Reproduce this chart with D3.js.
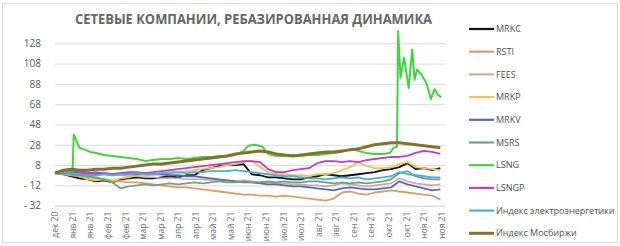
<!DOCTYPE html>
<html>
<head>
<meta charset="utf-8">
<script src="https://cdn.jsdelivr.net/npm/d3@7"></script>
<style>
  body { margin: 0; background: #fff; }
  svg { display: block; font-family: "Open Sans", "Noto Sans", sans-serif; }
</style>
</head>
<body>
<svg id="chart" width="620" height="246"></svg>
<script>
// weekly points from 28.12.2020
var startDate = new Date(2020, 11, 28);
var weeks = d3.range(48);

var seriesNames = ["MRKC", "RSTI", "FEES", "MRKP", "MRKV", "MSRS", "LSNG", "LSNGP",
                   "Индекс электроэнергетики", "Индекс Мосбиржи"];
var seriesColors = ["#111111", "#e39a66", "#d2a6ae", "#f2c44a", "#4f6fb2", "#72a27c",
                    "#3ed63e", "#c53ccc", "#3eb4e0", "#85712a"];
var seriesWidths = [1.8, 1.8, 1.6, 1.8, 1.8, 1.8, 2, 1.8, 1.8, 3];

var mrkc  = [0,-1,-3,-5,-6,-8,-7,-9,-6,-5,-4,-5,-5,-4,-3,-4,-2,-2,3,5,7,8,8,9,-1,-2,-4,-4,-5,-6,-6,-4,-3,-1,-2,-3,-2,-1,0,1,3,4,6,10,4,5,3,5];
var rsti  = [0,-1,-2,-3,-4,-5,-6,-7,-8,-9,-9,-10,-11,-12,-13,-14,-14,-15,-16,-17,-18,-19,-20,-21,-21,-22,-22,-23,-22,-23,-24,-25,-26,-27,-25,-19,-18,-20,-21,-19,-18,-17,-18,-19,-20,-21,-22,-26];
var fees  = [0,2,3,2,1,0,-1,-2,-2,-3,-3,-4,-4,-5,-5,-5,-6,-6,-6,-7,-7,-7,-8,-7,-8,-9,-9,-10,-10,-11,-11,-12,-12,-13,-12,-10,-11,-12,-13,-12,-11,-10,-5,-8,-10,-11,-12,-11];
var mrkp  = [0,2,1,-3,-6,-7,-6,-8,-5,-4,-2,-3,-1,0,2,1,2,3,4,5,6,8,9,11,12,6,1,0,-1,-2,-2,-3,-1,-1,0,3,6,11,7,5,5,6,9,11,6,5,4,3];
var mrkv  = [0,0,1,0,-1,-1,0,-1,0,-1,-1,0,-1,-1,-2,-2,-3,-3,-4,-5,-6,-7,-8,-9,-9,-10,-11,-11,-12,-13,-13,-14,-15,-16,-17,-15,-14,-15,-16,-16,-15,-14,-8,-11,-13,-15,-17,-16];
var msrs  = [0,1,-1,-2,-3,-4,-6,-9,-15,-13,-12,-11,-12,-11,-10,-11,-10,-9,-10,-9,-8,-9,-9,-8,-9,-9,-8,-9,-8,-9,-9,-8,-8,-9,-10,-9,-10,-9,-10,-9,-8,-6,0,2,-3,-5,-6,-6];
var lsngp = [0,2,3,1,0,1,0,-1,0,1,1,0,1,2,3,4,5,6,7,8,9,10,11,12,12,11,4,1,1,3,4,5,10,12,12,11,12,11,13,14,15,16,16,17,20,22,21,19];
var elIdx = [0,1,0,-1,-2,-2,-1,-2,-1,-1,0,-1,-1,0,0,1,0,1,1,2,2,2,3,2,1,0,-1,-2,-3,-3,-4,-5,-5,-6,-5,-4,-5,-4,-6,-5,-4,-3,1,-1,-2,-3,-4,-4];
var moex  = [0,3,4,3,3,4,4,5,5,6,7,8,9,9,10,11,12,13,14,15,16,17,19,20,21,22,21,19,18,17,18,19,20,21,21,22,23,24,26,28,29,30,30,29,28,27,26,25];

// LSNG has its own days (offset from startDate)
var lsngDays   = [0,7,14,15,16,19,21,26,30,35,42,49,56,63,70,77,84,91,98,105,112,119,126,133,140,147,154,161,165,171,177,182,189,196,203,210,217,224,231,238,245,252,259,266,273,280,286,289,292,293,295,298,302,305,307,309,313,317,321,324,327,330];
var lsngValues = [0,2,3,2,38,30,25,23,21,20,18,17,16,15,14,12,13,14,14,15,14,15,16,16,17,17,18,22,27,28,26,19,17,17,18,17,18,18,19,20,21,24,22,20,19,19,20,25,26,140,94,114,84,122,92,102,97,89,73,83,77,75];

var yTicks = [-32, -12, 8, 28, 48, 68, 88, 108, 128];

var weekValues = [mrkc, rsti, fees, mrkp, mrkv, msrs, null, lsngp, elIdx, moex];

var svg = d3.select("#chart");

var ru = d3.timeFormatLocale({
  dateTime: "%A, %e %B %Y г. %X", date: "%d.%m.%Y", time: "%H:%M:%S",
  periods: ["AM", "PM"],
  days: ["воскресенье","понедельник","вторник","среда","четверг","пятница","суббота"],
  shortDays: ["вс","пн","вт","ср","чт","пт","сб"],
  months: ["январь","февраль","март","апрель","май","июнь","июль","август","сентябрь","октябрь","ноябрь","декабрь"],
  shortMonths: ["янв","фев","мар","апр","май","июн","июл","авг","сен","окт","ноя","дек"]
});
var fmt = ru.format("%b %y");

var x = d3.scaleTime()
  .domain([startDate, d3.timeDay.offset(startDate, 333)])
  .range([55, 445]);
var y = d3.scaleLinear().domain([-32, 128]).range([205.7, 43.3]);

// frame
svg.append("rect").attr("x", 2.5).attr("y", 3.5).attr("width", 615).attr("height", 239)
  .attr("fill", "#fff").attr("stroke", "#d9d9d9");

// title
svg.append("text").attr("x", 75).attr("y", 24)
  .attr("textLength", 357).attr("lengthAdjust", "spacingAndGlyphs")
  .style("font-size", "15px").style("font-weight", "bold").style("fill", "#666666")
  .text("СЕТЕВЫЕ КОМПАНИИ, РЕБАЗИРОВАННАЯ ДИНАМИКА");

// grid + y labels
var yAxis = d3.axisLeft(y).tickValues(yTicks).tickSize(-(445 - 55))
  .tickFormat(function (d) { return d < 0 ? "- " + Math.abs(d) : d; });
var gy = svg.append("g").attr("transform", "translate(55,0)").call(yAxis);
gy.select(".domain").remove();
gy.selectAll("line").attr("stroke", "#d9d9d9");
gy.selectAll("text").attr("x", -14).style("font-size", "10px").style("fill", "#595959")
  .style("font-family", "Open Sans, sans-serif");

// x labels
var xTicks = d3.range(23).map(function (i) { return d3.timeDay.offset(startDate, 15 * i); });
var xAxis = d3.axisBottom(x).tickValues(xTicks).tickSize(0).tickFormat(fmt);
var gx = svg.append("g").attr("transform", "translate(0,205.7)").call(xAxis);
gx.select(".domain").attr("stroke", "#d9d9d9");
gx.selectAll("text")
  .attr("transform", "rotate(-90)")
  .attr("x", -6).attr("y", 0).attr("dy", "0.32em")
  .style("text-anchor", "end").style("font-size", "8.5px").style("fill", "#6f6f6f")
  .style("font-family", "Open Sans, sans-serif");

var line = d3.line()
  .x(function (d) { return x(d[0]); })
  .y(function (d) { return y(d[1]); });

seriesNames.forEach(function (name, i) {
  var pts;
  if (weekValues[i]) {
    pts = weeks.map(function (k) { return [d3.timeDay.offset(startDate, 7 * k), weekValues[i][k]]; });
  } else {
    pts = lsngDays.map(function (dd, j) { return [d3.timeDay.offset(startDate, dd), lsngValues[j]]; });
  }
  svg.append("path")
    .attr("d", line(pts))
    .attr("fill", "none")
    .attr("stroke", seriesColors[i])
    .attr("stroke-width", seriesWidths[i])
    .attr("stroke-linejoin", "round");
});

// legend
var legend = svg.append("g");
seriesNames.forEach(function (name, i) {
  var ly = 29 + i * 22.7;
  legend.append("line").attr("x1", 469).attr("x2", 494).attr("y1", ly).attr("y2", ly)
    .attr("stroke", seriesColors[i]).attr("stroke-width", i == 9 ? 3 : 2.2);
  legend.append("text").attr("x", 496).attr("y", ly).attr("dy", "0.35em")
    .style("font-size", "9px").style("fill", "#505050").text(name);
});
</script>
</body>
</html>
